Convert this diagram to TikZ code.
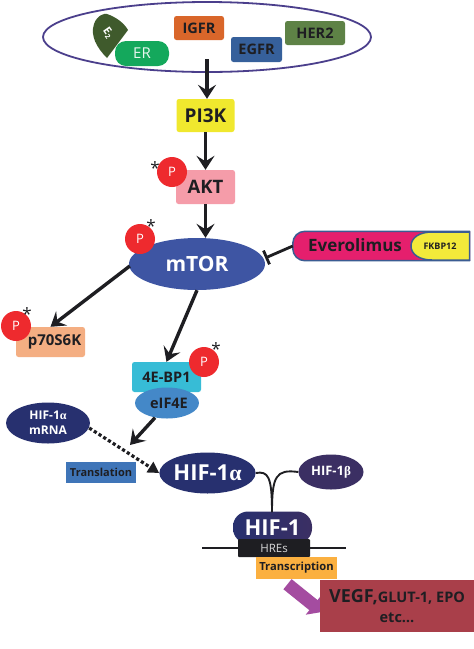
\documentclass[tikz,border=0pt]{standalone}
\usepackage{fontspec}
\setmainfont{Open Sans}
\newfontfamily\greekf{Liberation Serif}
\usetikzlibrary{arrows.meta,shapes.geometric}
\definecolor{navy}{HTML}{27306F}
\definecolor{navyb}{HTML}{3B2F63}
\definecolor{mtorblue}{HTML}{3E55A3}
\definecolor{pred}{HTML}{EE2A2E}
\definecolor{cmem}{HTML}{4B3F8C}
\definecolor{ce}{HTML}{3F5A2C}
\definecolor{cer}{HTML}{14A85C}
\definecolor{cigfr}{HTML}{D9662A}
\definecolor{cegfr}{HTML}{36609B}
\definecolor{cher}{HTML}{5E8246}
\definecolor{cpi}{HTML}{F0E82E}
\definecolor{cakt}{HTML}{F59CA9}
\definecolor{cp70}{HTML}{F4AE82}
\definecolor{cbp}{HTML}{37BCD6}
\definecolor{ceif}{HTML}{4488C8}
\definecolor{cev}{HTML}{E51F6D}
\definecolor{cevb}{HTML}{3B5C92}
\definecolor{cfk}{HTML}{F3EA3A}
\definecolor{ctr}{HTML}{3F75B8}
\definecolor{ctc}{HTML}{FBB040}
\definecolor{cve}{HTML}{A93F4A}
\definecolor{cpu}{HTML}{A44CA0}
\definecolor{ink}{HTML}{1E1E22}
\tikzset{
 x=1pt,y=-1pt,
 box/.style={rectangle,rounded corners=2.5pt,inner sep=0pt,text=ink},
 oval/.style={ellipse,inner sep=0pt},
 pcirc/.style={circle,fill=pred,minimum size=30pt,inner sep=0pt,text=white,font=\fontsize{13}{13}\selectfont},
 starnode/.style={inner sep=0pt,font=\fontsize{17}{17}\selectfont,text=ink},
 flow/.style={line width=3.4pt,draw=ink,-{Stealth[length=14pt,width=18pt,inset=5.5pt]}},
}
\newcommand{\sz}[1]{\fontsize{#1}{#1}\selectfont}
\newcommand{\al}{{\greekf α}}
\newcommand{\be}{{\greekf β}}
\begin{document}
\begin{tikzpicture}
\useasboundingbox (0,0) rectangle (474,649);
\fill[white] (0,0) rectangle (474,649);
% membrane
\node[ellipse,draw=cmem,line width=1.8pt,minimum width=328pt,minimum height=70pt,inner sep=0pt] (membrane) at (207,37) {};
% receptors
\path[fill=ce] (107,58) .. controls (97,48) and (90,36) .. (94,24) .. controls (97,15) and (105,13) .. (107,14) .. controls (116,17) and (124,23) .. (128,30) -- cycle;
\node[box,fill=cer,rounded corners=11pt,minimum width=54pt,minimum height=25pt,text=white!90!cer,font=\sz{15}] (er) at (142,53.5) {ER};
\node[rotate=-55,text=white,inner sep=0pt,font=\bfseries\sz{11}] (e2) at (108,33) {E\raisebox{-2pt}{\sz{7}2}};
\node[box,fill=cigfr,minimum width=50pt,minimum height=24pt,font=\bfseries\sz{14.5}] (igfr) at (199,28) {IGFR};
\node[box,fill=cegfr,minimum width=51pt,minimum height=25pt,font=\bfseries\sz{14.5}] (egfr) at (256.5,49.5) {EGFR};
\node[box,fill=cher,minimum width=60pt,minimum height=24pt,font=\bfseries\sz{14.5}] (her) at (315,33) {HER2};
% pathway
\node[box,fill=cpi,minimum width=58pt,minimum height=33pt,font=\bfseries\sz{19}] (pi3k) at (205.5,115.5) {PI3K};
\node[box,fill=cakt,minimum width=59pt,minimum height=34pt,font=\bfseries\sz{18.5}] (akt) at (205.5,187) {AKT};
\node[oval,fill=mtorblue,minimum width=136pt,minimum height=52pt,font=\bfseries\sz{21},text=white] (mtor) at (197,264) {mTOR};
\node[box,fill=cp70,minimum width=69pt,minimum height=30pt,font=\bfseries\sz{15}] (p70) at (50.5,342) {\hspace{8pt}p70S6K};
\node[box,fill=cbp,minimum width=69pt,minimum height=30pt,font=\bfseries\sz{14.5}] (bp) at (166.5,377) {4E-BP1};
\node[oval,fill=ceif,minimum width=64pt,minimum height=31pt,font=\bfseries\sz{14.5},text=ink] (eif) at (167,403) {\hspace{4pt}eIF4E};
% Everolimus
\node[minimum width=177pt,minimum height=29pt,inner sep=0pt] (evbox) at (381.5,246) {};
\path[fill=cev,draw=cevb,line width=1.5pt,rounded corners=12pt] (evbox.north east) -- (evbox.north west) -- (evbox.south west) -- (evbox.south east);
\path[fill=cfk,draw=cevb,line width=1.5pt] (469.5,232) -- (432,232) .. controls (419,232) and (411,238) .. (411,246) .. controls (411,254) and (419,260) .. (432,260) -- (469.5,260) -- cycle;
\node[inner sep=0pt,font=\bfseries\sz{17},text=ink] (ever) at (355,245) {Everolimus};
\node[inner sep=0pt,font=\bfseries\sz{9},text=ink] (fk) at (440,246) {FKBP12};
% HIF
\node[oval,fill=navy,minimum width=84pt,minimum height=41pt,text=white,align=center,font=\bfseries\sz{12}] (mrna) at (48,423) {HIF-1\al\\[3pt]mRNA};
\node[rectangle,fill=ctr,minimum width=70pt,minimum height=21pt,inner sep=0pt,font=\bfseries\sz{11},text=ink] (trans) at (101,472.5) {Translation};
\node[oval,fill=navy,minimum width=85pt,minimum height=41pt,text=white,font=\bfseries\sz{22}] (hifa) at (207.5,473) {HIF-1\al};
\node[oval,fill=navyb,minimum width=65pt,minimum height=35pt,text=white,font=\bfseries\sz{13}] (hifb) at (331,472) {HIF-1\be};
\node[rectangle,rounded corners=15pt,left color=navy,right color=navyb,minimum width=79pt,minimum height=32pt,inner sep=0pt,text=white,font=\bfseries\sz{22}] (hif) at (272.5,527.5) {HIF-1};
\coordinate (dnaL) at (202,548);
\coordinate (dnaR) at (346,548);
\draw[line width=1.8pt,ink] (dnaL) -- (dnaR);
\node[box,rounded corners=1pt,fill=ink,minimum width=72pt,minimum height=18pt,text=white!85!black,font=\sz{11.5}] (hre) at (274,548) {HREs};
\node[rectangle,fill=ctc,minimum width=81pt,minimum height=22pt,inner sep=0pt,font=\bfseries\sz{11.2},text=ink] (tr) at (296.5,568) {Transcription};
\draw[line width=13pt,cpu,-{Stealth[length=11pt,width=24pt,inset=0pt]}] (tr.south) ++(-9,5) coordinate (pa) -- (322,612);
\node[rectangle,fill=cve,minimum width=154pt,minimum height=52pt,inner sep=0pt,align=center,text=ink] (vegf) at (397,606) {{\bfseries\sz{18}VEGF,}{\bfseries\sz{14.5}GLUT-1, EPO}\\[8pt]{\bfseries\sz{14.5}etc…}};
% P circles
\node[pcirc] (p1) at (172,172) {P};
\node[pcirc] (p2) at (140,239) {P};
\node[pcirc] (p3) at (16,326) {P};
\node[pcirc] (p4) at (204,362) {P};
\node[starnode] (s1) at (155,168) {*};
\node[starnode] (s2) at (151,226) {*};
\node[starnode] (s3) at (27,314) {*};
\node[starnode] (s4) at (216,349) {*};
% connectors
\coordinate (down1) at (207,59);
\draw[flow] (down1) -- (pi3k.north -| down1);
\draw[flow] (pi3k.south) -- (akt.north);
\draw[flow] (akt.south) -- (mtor.north -| akt.south);
\draw[flow] (mtor.west) ++(1,2) -- (p70.north);
\draw[flow] (mtor.south) -- (bp.north);
\draw[flow] (eif.south) ++(-12,-1) coordinate (e1) -- (130,445);
\draw[line width=2.8pt,ink,-{Bar[width=15pt,length=2.5pt]}] (evbox.west) -- (mtor.east |- 0,258);
\draw[line width=3.2pt,ink,dash pattern=on 3.2pt off 2.4pt,-{Stealth[length=11pt,width=12pt,inset=0pt]}] (mrna.east) ++(-1,5) -- (hifa.west);
\draw[line width=1.9pt,ink] (hifa.east) .. controls (268,471) and (272,476) .. (272,512);
\draw[line width=1.9pt,ink] (hifb.west) .. controls (276,469) and (272,476) .. (272,512);
\end{tikzpicture}
\end{document}
